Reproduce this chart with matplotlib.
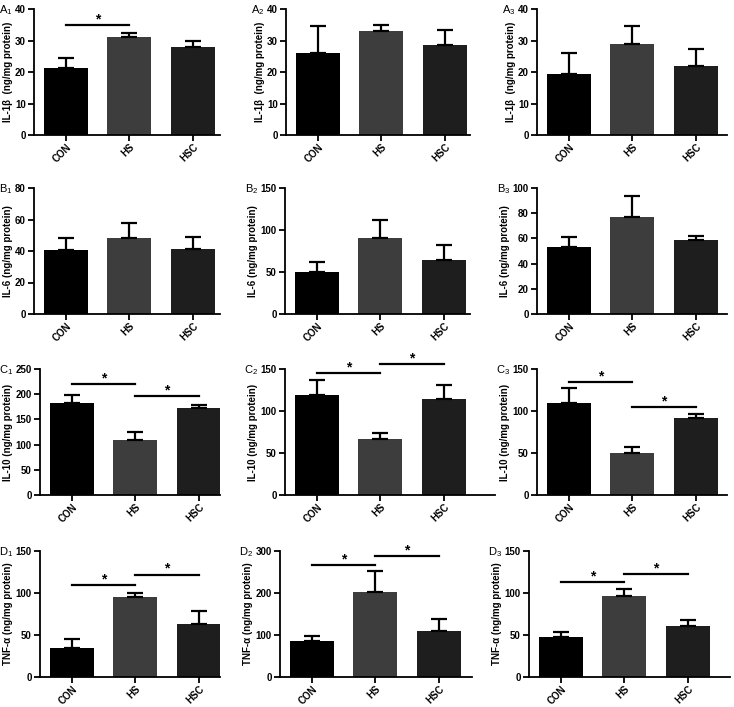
import matplotlib
matplotlib.use("Agg")
import matplotlib.pyplot as plt
import numpy as np

plt.rcParams['font.family'] = ['Liberation Sans', 'DejaVu Sans']
plt.rcParams['mathtext.default'] = 'regular'

groups = ["CON", "HS", "HSC"]
bar_colors = ["#000000", "#3d3d3d", "#1e1e1e"]

# mean values per panel (rows: A..D, cols: 1..3)
il1b_mean = [[21.3, 31.2, 27.8], [26.0, 33.0, 28.6], [19.3, 28.8, 21.9]]
il1b_err = [[3.0, 1.2, 2.1], [8.5, 2.0, 4.7], [6.7, 5.8, 5.3]]
il6_mean = [[40.5, 48.0, 41.5], [50.0, 90.0, 64.0], [53.0, 77.0, 59.0]]
il6_err = [[7.5, 10.0, 7.5], [12.0, 22.0, 18.0], [8.0, 17.0, 3.0]]
il10_mean = [[182, 109, 173], [119, 67, 114], [110, 50, 92]]
il10_err = [[17, 16, 6], [18, 7, 17], [17, 7, 5]]
tnf_mean = [[35, 95, 63], [85, 202, 110], [48, 97, 61]]
tnf_err = [[10, 5, 15], [12, 50, 28], [5, 8, 7]]

ylabels = ["IL-1\u03b2  (ng/mg protein)", "IL-6 (ng/mg protein)",
           "IL-10 (ng/mg protein)", "TNF-\u03b1 (ng/mg protein)"]
row_letters = ["A", "B", "C", "D"]

ymax = [[40, 40, 40], [80, 150, 100], [250, 150, 150], [150, 300, 150]]
ystep = [[10, 10, 10], [20, 50, 20], [50, 50, 50], [50, 100, 50]]

# significance brackets: (panel row, col, from, to, height)
sig = [(0, 0, 0, 1, 35),
       (2, 0, 0, 1, 221), (2, 0, 1, 2, 197),
       (2, 1, 0, 1, 145), (2, 1, 1, 2, 156),
       (2, 2, 0, 1, 135), (2, 2, 1, 2, 105),
       (3, 0, 0, 1, 109), (3, 0, 1, 2, 122),
       (3, 1, 0, 1, 267), (3, 1, 1, 2, 287),
       (3, 2, 0, 1, 113), (3, 2, 1, 2, 123)]

means = [il1b_mean, il6_mean, il10_mean, tnf_mean]
errs = [il1b_err, il6_err, il10_err, tnf_err]

W, H = 734, 707
fig = plt.figure(figsize=(W / 100, H / 100), dpi=100)

# axes geometry in pixels
lefts = [[34, 286, 537], [34, 285, 537], [40, 285, 537], [40, 280, 529]]
rights = [[220, 470, 727], [220, 470, 727], [220, 495, 727], [220, 472, 730]]
tops = [9, 188, 369, 551]
axh = 126
spacing = 63.5

axes = {}
for r in range(4):
    for c in range(3):
        l, rt, t = lefts[r][c], rights[r][c], tops[r]
        ax = fig.add_axes([l / W, 1 - (t + axh) / H, (rt - l) / W, axh / H])
        axes[(r, c)] = ax
        x = np.arange(3)
        ax.bar(x, means[r][c], width=0.69, color=bar_colors, zorder=2)
        ax.errorbar(x, means[r][c], yerr=[np.zeros(3), errs[r][c]], fmt='none',
                    ecolor='black', elinewidth=1.6, capsize=6, capthick=1.6, zorder=3)
        ax.set_xlim(-0.5, -0.5 + (rt - l) / spacing)
        ax.set_ylim(0, ymax[r][c])
        ax.set_yticks(np.arange(0, ymax[r][c] + 1, ystep[r][c]))
        ax.set_xticks(x)
        ax.set_xticklabels(groups, rotation=45, ha='right', rotation_mode='anchor',
                           fontsize=7, fontweight='bold')
        for lab in ax.get_yticklabels():
            lab.set_fontsize(7)
            lab.set_fontweight('bold')
        ax.spines['top'].set_visible(False)
        ax.spines['right'].set_visible(False)
        ax.spines['left'].set_linewidth(1.3)
        ax.spines['bottom'].set_linewidth(1.3)
        ax.tick_params(width=1.3, length=4, pad=2)
        ax.tick_params(axis='x', pad=1)
        ax.set_ylabel(ylabels[r], fontsize=7, fontweight='bold', labelpad=1.5)

for r, c, i, j, y in sig:
    ax = axes[(r, c)]
    ax.plot([i, j], [y, y], color='black', lw=1.6, clip_on=False, zorder=4)
    ax.annotate("*", xy=((i + j) / 2, y), xytext=(0, -1), textcoords='offset points',
                ha='center', va='bottom', fontsize=10, fontweight='bold',
                annotation_clip=False)

# panel labels just left of the top y tick label
fig.canvas.draw()
renderer = fig.canvas.get_renderer()
for (r, c), ax in axes.items():
    top_lab = ax.get_yticklabels()[-1]
    bb = top_lab.get_window_extent(renderer)
    fig.text((bb.x0 - 2) / W, (bb.y0 + bb.y1) / 2 / H,
             row_letters[r] + "$_{%d}$" % (c + 1), fontsize=8,
             ha='right', va='center')

fig.savefig("out.png", dpi=100)
